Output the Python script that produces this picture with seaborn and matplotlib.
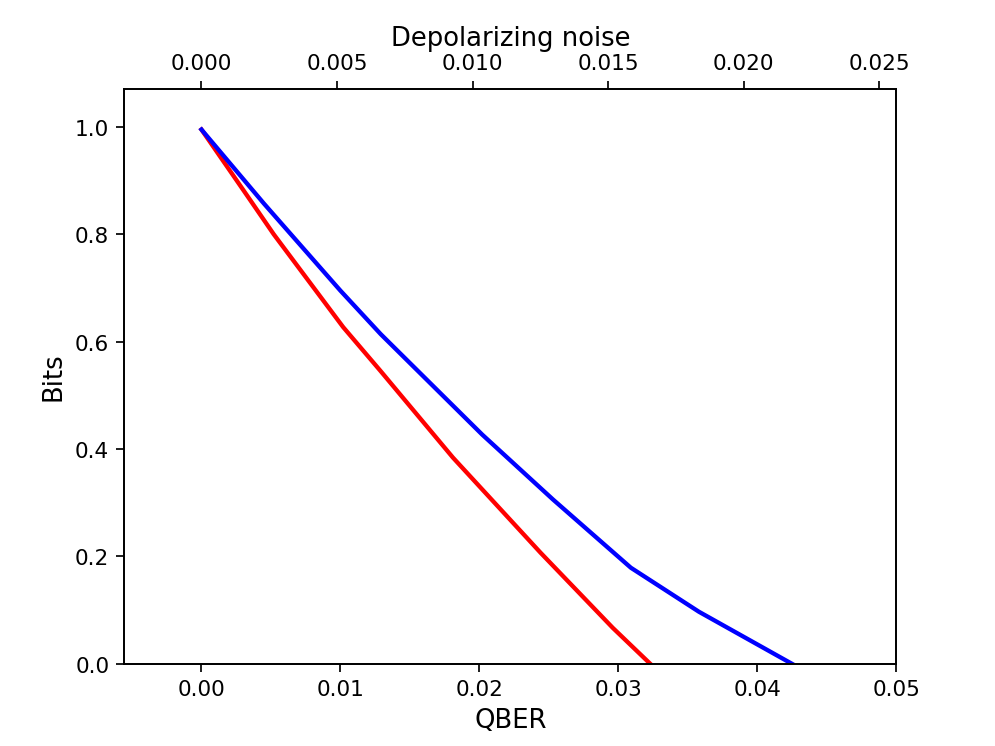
import matplotlib
matplotlib.use("Agg")
import matplotlib.pyplot as plt
import seaborn as sns

# Valores (QBER vs bits)
qber_rojo = [0.0, 0.0031, 0.0052, 0.0102, 0.0129, 0.0181, 0.0244, 0.0296, 0.0323]
bits_rojo = [0.995, 0.879, 0.800, 0.627, 0.545, 0.384, 0.207, 0.067, 0.0]

qber_azul = [0.0, 0.0045, 0.0100, 0.0129, 0.0202, 0.0253, 0.0309, 0.0358, 0.0425]
bits_azul = [0.995, 0.857, 0.695, 0.614, 0.427, 0.306, 0.179, 0.097, 0.0]

fig, ax = plt.subplots(figsize=(6.4, 4.8), dpi=155.6)
sns.lineplot(x=qber_rojo, y=bits_rojo, color='red', linewidth=2, ax=ax, sort=False)
sns.lineplot(x=qber_azul, y=bits_azul, color='blue', linewidth=2, ax=ax, sort=False)

ax.set_xlim(-0.00554, 0.05)
ax.set_ylim(0, 1.071)
ax.set_xlabel('QBER', fontsize=12)
ax.set_ylabel('Bits', fontsize=12)

# Eje superior: ruido depolarizante
ax2 = ax.twiny()
ax2.set_xlim(-0.00554 / 1.951, 0.05 / 1.951)
ax2.set_xticks([0.0, 0.005, 0.010, 0.015, 0.020, 0.025])
ax2.set_xlabel('Depolarizing noise', fontsize=12)

plt.savefig('out.png', dpi=155.6)
